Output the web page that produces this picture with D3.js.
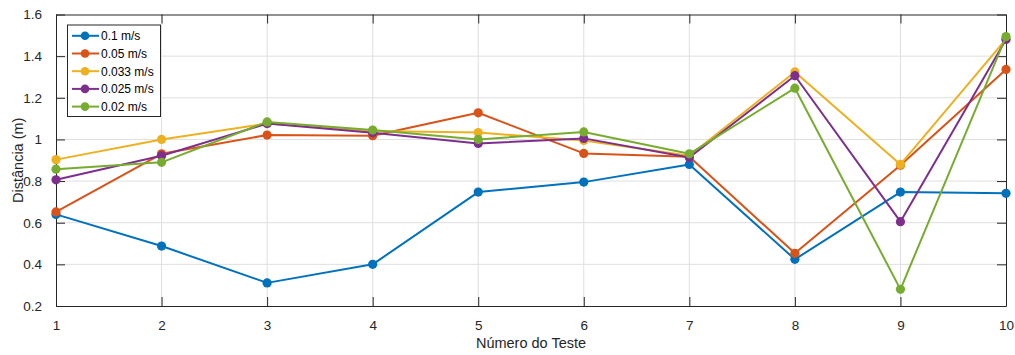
<!DOCTYPE html>
<html>
<head>
<meta charset="utf-8">
<script src="https://cdn.jsdelivr.net/npm/d3@7"></script>
<style>
  html, body { margin: 0; padding: 0; background: #fff; }
  svg { display: block; font-family: "Liberation Sans", Arial, Helvetica, sans-serif; }
</style>
</head>
<body>
<svg id="chart" width="1015" height="355"></svg>
<script>
// Test numbers along the x axis
const tests = [1, 2, 3, 4, 5, 6, 7, 8, 9, 10];

// Measured distance (m) for each speed
const speed01   = [0.640, 0.488, 0.311, 0.400, 0.747, 0.795, 0.880, 0.424, 0.747, 0.741];
const speed005  = [0.652, 0.931, 1.021, 1.018, 1.128, 0.933, 0.917, 0.453, 0.876, 1.336];
const speed0033 = [0.903, 1.000, 1.076, 1.040, 1.033, 0.995, 0.922, 1.324, 0.880, 1.482];
const speed0025 = [0.806, 0.922, 1.076, 1.032, 0.981, 1.005, 0.913, 1.306, 0.605, 1.480];
const speed002  = [0.857, 0.890, 1.084, 1.045, 1.000, 1.036, 0.931, 1.246, 0.280, 1.494];

const seriesNames  = ["0.1 m/s", "0.05 m/s", "0.033 m/s", "0.025 m/s", "0.02 m/s"];
const seriesValues = [speed01, speed005, speed0033, speed0025, speed002];
const seriesColors = ["#0072BD", "#D95319", "#EDB120", "#7E2F8E", "#77AC30"];

const yTicks = [0.2, 0.4, 0.6, 0.8, 1.0, 1.2, 1.4, 1.6];
const xTicks = tests;

const margin = { left: 56, right: 9, top: 14.5, bottom: 49 };
const W = 1015, H = 355;

const svg = d3.select("#chart");

const x = d3.scaleLinear().domain([1, 10]).range([margin.left, W - margin.right]);
const y = d3.scaleLinear().domain([0.2, 1.6]).range([H - margin.bottom, margin.top]);

const axisColor = "#262626";
const tickLen = 9;

// grid
const grid = svg.append("g");
grid.selectAll("line.gx").data(xTicks.slice(1, -1)).join("line")
  .attr("x1", d => x(d)).attr("x2", d => x(d))
  .attr("y1", y(0.2)).attr("y2", y(1.6))
  .attr("stroke", "#dfdfdf").attr("stroke-width", 1);
grid.selectAll("line.gy").data(yTicks.slice(1, -1)).join("line")
  .attr("y1", d => y(d)).attr("y2", d => y(d))
  .attr("x1", x(1)).attr("x2", x(10))
  .attr("stroke", "#dfdfdf").attr("stroke-width", 1);

// axes with inward ticks
const fmtY = d => (d === 1 ? "1" : d3.format(".1f")(d));
const xAxis = d3.axisBottom(x).tickValues(xTicks).tickFormat(d3.format("d"))
  .tickSizeInner(-tickLen).tickSizeOuter(0).tickPadding(14);
const yAxis = d3.axisLeft(y).tickValues(yTicks).tickFormat(fmtY)
  .tickSizeInner(-tickLen).tickSizeOuter(0).tickPadding(14);
const xTop = d3.axisTop(x).tickValues(xTicks).tickFormat("").tickSizeInner(-tickLen).tickSizeOuter(0);
const yRight = d3.axisRight(y).tickValues(yTicks).tickFormat("").tickSizeInner(-tickLen).tickSizeOuter(0);

function styleAxis(g) {
  g.select(".domain").attr("stroke", axisColor).attr("stroke-width", 1);
  g.selectAll(".tick line").attr("stroke", axisColor).attr("stroke-width", 1);
  g.selectAll(".tick text").attr("fill", axisColor).style("font-size", "13.5px")
    .style("font-family", "'Liberation Sans', Arial, sans-serif");
}

svg.append("g").attr("transform", `translate(0,${y(0.2)})`).call(xAxis).call(styleAxis);
svg.append("g").attr("transform", `translate(${x(1)},0)`).call(yAxis).call(styleAxis);
svg.append("g").attr("transform", `translate(0,${y(1.6)})`).call(xTop).call(styleAxis);
svg.append("g").attr("transform", `translate(${x(10)},0)`).call(yRight).call(styleAxis);

// series
const line = d3.line().x((d, i) => x(tests[i])).y(d => y(d));
seriesValues.forEach((vals, k) => {
  const g = svg.append("g");
  g.append("path").datum(vals)
    .attr("d", line)
    .attr("fill", "none")
    .attr("stroke", seriesColors[k])
    .attr("stroke-width", 2)
    .attr("stroke-linejoin", "round");
  g.selectAll("circle").data(vals).join("circle")
    .attr("cx", (d, i) => x(tests[i]))
    .attr("cy", d => y(d))
    .attr("r", 4.6)
    .attr("fill", seriesColors[k]);
});

// axis titles
svg.append("text")
  .attr("x", (x(1) + x(10)) / 2).attr("y", 348)
  .attr("text-anchor", "middle")
  .attr("fill", axisColor)
  .style("font-size", "14.5px")
  .text("Número do Teste");

svg.append("text")
  .attr("transform", `translate(23,${(y(0.2) + y(1.6)) / 2}) rotate(-90)`)
  .attr("text-anchor", "middle")
  .attr("fill", axisColor)
  .style("font-size", "14.5px")
  .text("Distância (m)");

// legend
const leg = svg.append("g");
leg.append("rect")
  .attr("x", 67.5).attr("y", 25).attr("width", 93).attr("height", 91.5)
  .attr("fill", "#fff").attr("stroke", axisColor).attr("stroke-width", 1);
seriesNames.forEach((name, k) => {
  const cy = 35.8 + k * 17.7;
  leg.append("line")
    .attr("x1", 72).attr("x2", 99).attr("y1", cy).attr("y2", cy)
    .attr("stroke", seriesColors[k]).attr("stroke-width", 2);
  leg.append("circle").attr("cx", 85).attr("cy", cy).attr("r", 4.3).attr("fill", seriesColors[k]);
  leg.append("text")
    .attr("x", 101).attr("y", cy + 4.3)
    .attr("fill", "#000")
    .style("font-size", "12px")
    .text(name);
});
</script>
</body>
</html>
